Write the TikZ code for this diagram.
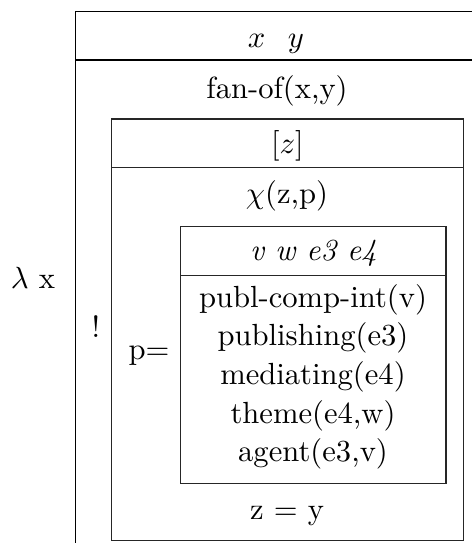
\documentclass[tikz,border=0pt]{standalone}
\begin{document}
\begin{tikzpicture}[x=0.3268pt,y=-0.3268pt,
  txt/.style={anchor=base,inner sep=0pt,font=\fontsize{10pt}{12pt}\selectfont},
  boxline/.style={line width=0.42pt,black!85}]
\useasboundingbox (0,0) rectangle (472,543);
% outer box (clipped by page at right and bottom)
\coordinate (otl) at (75.5,11.5);
\coordinate (otr) at (472,11.5);
\coordinate (obl) at (75.5,543);
\coordinate (odl) at (75.5,60);
\coordinate (odr) at (472,60);
\draw[line width=0.42pt] (otr) -- (otl) -- (obl);
\draw[line width=0.42pt] (odl) -- (odr);
% middle box
\coordinate (mtl) at (111.5,119);
\coordinate (mbr) at (463.3,540.7);
\coordinate (mdl) at (111.5,167.7);
\coordinate (mdr) at (463.3,167.7);
\draw[boxline] (mtl) rectangle (mbr);
\draw[boxline] (mdl) -- (mdr);
% inner box
\coordinate (itl) at (180.3,226.7);
\coordinate (ibr) at (446,483.3);
\coordinate (idl) at (180.3,275.7);
\coordinate (idr) at (446,275.7);
\draw[boxline] (itl) rectangle (ibr);
\draw[boxline] (idl) -- (idr);
% texts
\node[txt] (xy) at (276,47) {$x$\hspace{7.4pt}$y$};
\node[txt] (fan) at (277,98) {fan-of(x,y)};
\node[txt] (lam) at (33,288) {$\lambda$ x};
\node[txt] (bang) at (96,337) {!};
\node[txt] (z) at (287.4,153) {$[z]$};
\node[txt] (chi) at (287,203) {$\chi$(z,p)};
\node[txt] (peq) at (149,359) {p=};
\node[txt] (zy) at (287,519) {z = y};
\node[txt] (refs) at (313.5,260) {\textit{v w e3 e4}};
\node[txt] (c1) at (313,307) {publ-comp-int(v)};
\node[txt] (c2) at (313,345.7) {publishing(e3)};
\node[txt] (c3) at (313,384.4) {mediating(e4)};
\node[txt] (c4) at (313,423.1) {theme(e4,w)};
\node[txt] (c5) at (313,461.8) {agent(e3,v)};
\end{tikzpicture}
\end{document}
